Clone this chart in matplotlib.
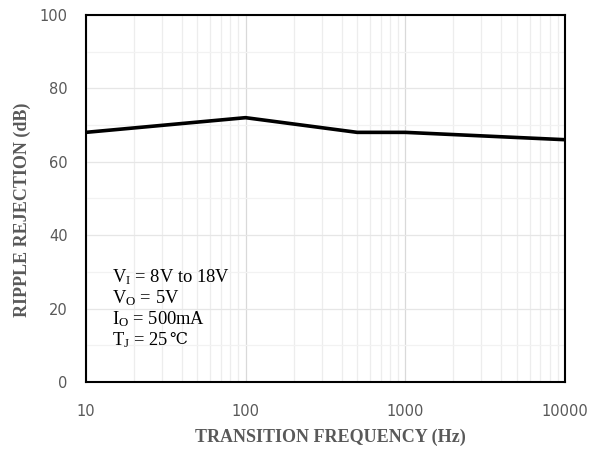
import matplotlib
matplotlib.use('Agg')
import matplotlib.pyplot as plt
from matplotlib.ticker import FixedLocator, NullFormatter

# ── Data ─────────────────────────────────────────────────────────────────────
freq_hz      = [10, 100, 500, 1000, 10000]
rejection_db = [68, 72, 68, 68, 66]

x_ticks = [10, 100, 1000, 10000]
y_ticks = [0, 20, 40, 60, 80, 100]

cond_lines = [r'V$_\mathregular{I}$ = 8V to 18V',
              r'V$_\mathregular{O}$ = 5V',
              r'I$_\mathregular{O}$ = 500mA',
              r'T$_\mathregular{J}$ = 25']
cond_tail = [None, None, None, '℃']

plt.rcParams['mathtext.fontset'] = 'custom'
plt.rcParams['mathtext.rm'] = 'Liberation Serif'
plt.rcParams['mathtext.it'] = 'Liberation Serif:italic'
plt.rcParams['mathtext.bf'] = 'Liberation Serif:bold'

SERIF = ['Liberation Serif', 'DejaVu Serif']
GREY = '#595959'

fig = plt.figure(figsize=(5.96, 4.51), dpi=100)
ax = fig.add_axes([0.144, 0.153, 0.804, 0.814])

ax.plot(freq_hz, rejection_db, color='black', lw=2.6, solid_capstyle='butt', zorder=3)

ax.set_xscale('log')
ax.set_xlim(10, 10000)
ax.set_ylim(0, 100)

ax.xaxis.set_major_locator(FixedLocator(x_ticks))
ax.set_xticklabels([str(v) for v in x_ticks])
ax.xaxis.set_minor_locator(FixedLocator([m * 10**e for e in range(1, 4) for m in range(2, 10)]))
ax.xaxis.set_minor_formatter(NullFormatter())
ax.set_yticks(y_ticks)
ax.set_yticks(range(10, 100, 20), minor=True)

ax.grid(True, which='major', axis='x', color='#d9d9d9', lw=0.9)
ax.grid(True, which='minor', axis='x', color='#ededed', lw=0.9)
ax.grid(True, which='major', axis='y', color='#e6e6e6', lw=0.9)
ax.grid(True, which='minor', axis='y', color='#f2f2f2', lw=0.9)
ax.set_axisbelow(True)

ax.tick_params(which='both', length=0, labelsize=10.5, labelcolor=GREY)
ax.tick_params(axis='x', pad=16)
ax.tick_params(axis='y', pad=13)

for s in ax.spines.values():
    s.set_color('black')
    s.set_linewidth(1.5)

ax.set_xlabel('TRANSITION FREQUENCY (Hz)', family=SERIF, fontweight='bold',
              fontsize=13, color=GREY, va='center')
ax.set_ylabel('RIPPLE REJECTION (dB)', family=SERIF, fontweight='bold',
              fontsize=13, color=GREY, va='center')
ax.xaxis.set_label_coords(0.51, -0.15)
ax.yaxis.set_label_coords(-0.132, 0.47)

for i, line in enumerate(cond_lines):
    t = ax.text(0.055, 0.286 - i * 0.057, line, transform=ax.transAxes,
                family=SERIF, fontsize=13.3, color='black', va='center', ha='left')
    if cond_tail[i]:
        ax.annotate(cond_tail[i], xy=(1, 0.5), xycoords=t, xytext=(0.5, 0),
                    textcoords='offset points', family='DejaVu Serif',
                    fontsize=11.5, color='black', va='center', ha='left')

fig.savefig('out.png', dpi=100)
